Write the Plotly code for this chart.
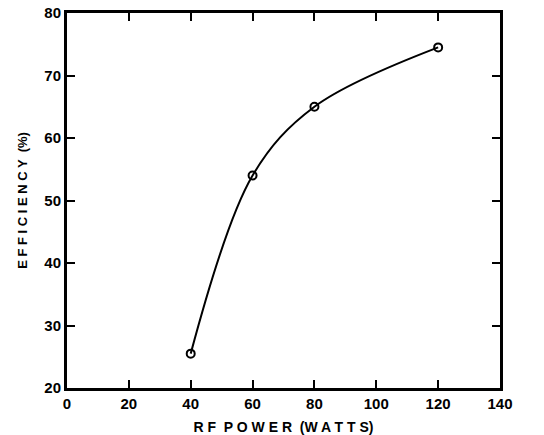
import plotly.graph_objects as go

rf_power = [40, 60, 80, 120]
efficiency = [25.5, 54, 65, 74.5]

x_ticks = [0, 20, 40, 60, 80, 100, 120, 140]
y_ticks = [20, 30, 40, 50, 60, 70, 80]

fig = go.Figure()
fig.add_trace(go.Scatter(
    x=rf_power, y=efficiency, mode="lines+markers",
    line=dict(color="black", width=2, shape="spline", smoothing=1.0),
    marker=dict(symbol="circle-open", size=8, color="black", line=dict(width=2)),
    showlegend=False,
))

font = dict(family="Liberation Sans, Arial, sans-serif", size=15, color="black")
fig.update_layout(
    width=544, height=435,
    margin=dict(l=67, r=44, t=13, b=47),
    paper_bgcolor="white", plot_bgcolor="white",
    font=font,
)
fig.update_xaxes(
    range=[0, 140], tickvals=x_ticks, ticktext=[f"<b>{v}</b>" for v in x_ticks],
    ticks="inside", ticklen=8, tickwidth=2, tickcolor="black",
    showline=True, linecolor="black", linewidth=3, mirror="ticks",
    showgrid=False, zeroline=False, automargin=False,
    title=dict(text="<b>R F  P O W E R  (W A T T S)</b>", standoff=12, font=dict(size=14)),
)
fig.update_yaxes(
    range=[20, 80], tickvals=y_ticks, ticktext=[f"<b>{v}</b>" for v in y_ticks],
    ticks="inside", ticklen=8, tickwidth=2, tickcolor="black",
    showline=True, linecolor="black", linewidth=3, mirror="ticks",
    showgrid=False, zeroline=False, automargin=False,
    title=dict(text="<b>E F F I C I E N C Y  (%)</b>", standoff=14, font=dict(size=13)),
)
fig.write_html("out.html")
